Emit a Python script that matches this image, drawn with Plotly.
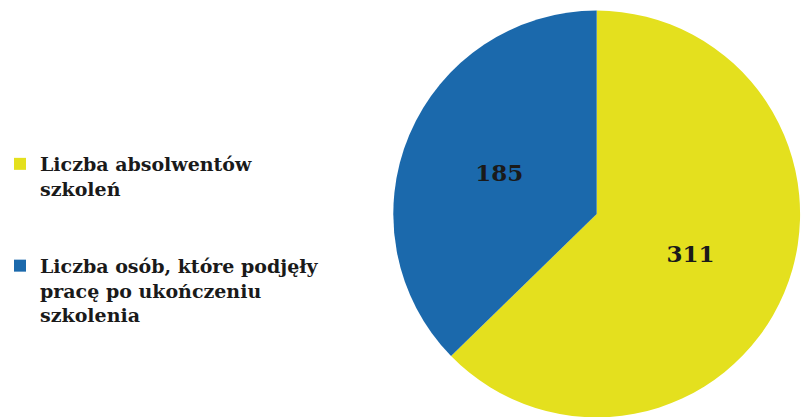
import plotly.graph_objects as go

labels = ["Liczba absolwentów<br>szkoleń<br> <br> ",
          "Liczba osób, które podjęły<br>pracę po ukończeniu<br>szkolenia"]
values = [311, 185]
colors = ["#E4E01E", "#1B69AC"]

W, H = 805, 430
cx, cy, r = 593, 214, 207

fig = go.Figure(go.Pie(
    labels=labels,
    values=values,
    sort=False,
    direction="clockwise",
    rotation=0,
    marker=dict(colors=colors, line=dict(width=0)),
    textinfo="value",
    textposition="inside",
    insidetextorientation="horizontal",
    textfont=dict(family="DejaVu Serif", size=23, color="#1a1a1a", weight="bold"),
    domain=dict(x=[(cx - r) / W, (cx + r) / W], y=[1 - (cy + r) / H, 1 - (cy - r) / H]),
    hoverinfo="skip",
))

fig.update_layout(
    width=W, height=H,
    margin=dict(l=0, r=0, t=0, b=0),
    paper_bgcolor="white",
    showlegend=True,
    legend=dict(
        x=-0.018, xanchor="left",
        y=1 - 145 / H, yanchor="top",
        valign="top",
        font=dict(family="DejaVu Serif", size=19, color="#1a1a1a", weight="bold"),
        bgcolor="rgba(0,0,0,0)",
        itemclick=False, itemdoubleclick=False,
    ),
)

fig.write_html("out.html", config={"displayModeBar": False},
               post_script="document.body.style.margin='0';document.body.style.overflow='hidden';document.documentElement.style.overflow='hidden';")
